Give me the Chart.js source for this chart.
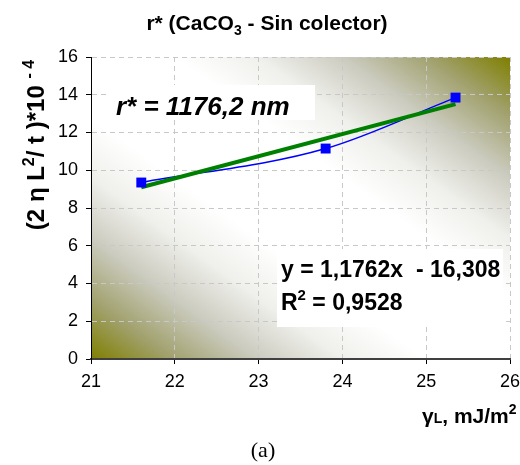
<!DOCTYPE html>
<html>
<head>
<meta charset="utf-8">
<script src="https://cdn.jsdelivr.net/npm/chart.js@4.4.0/dist/chart.umd.min.js"></script>
<style>
  html, body { margin: 0; padding: 0; background: #fff; overflow: hidden; }
  #wrap { width: 520px; height: 465px; overflow: hidden; position: relative; }
  #box { width: 540px; height: 465px; }
</style>
</head>
<body>
<div id="wrap"><div id="box"><canvas id="grafico"></canvas></div></div>
<script>
// datos
const gammaL = [21.6, 23.8, 25.35];
const valores = [9.35, 11.15, 13.85];
const tendenciaX = [21.6, 25.35];
const tendenciaY = [9.1, 13.5];
const xTicks = [21, 22, 23, 24, 25, 26];
const yTicks = [0, 2, 4, 6, 8, 10, 12, 14, 16];

const puntos = gammaL.map((x, i) => ({ x: x, y: valores[i] }));
const linea = tendenciaX.map((x, i) => ({ x: x, y: tendenciaY[i] }));

// texto con sub/superindices
function textoRico(ctx, partes, x, y, size, estilo, align) {
  const tam = p => (p.s ? Math.round(size * 0.65) : size);
  const ancho = partes.reduce((a, p) => {
    ctx.font = estilo + " " + tam(p) + "px 'Liberation Sans', Arial";
    return a + ctx.measureText(p.t).width;
  }, 0);
  let cx = align === "center" ? x - ancho / 2 : x;
  ctx.textAlign = "left";
  ctx.textBaseline = "alphabetic";
  partes.forEach(p => {
    ctx.font = estilo + " " + tam(p) + "px 'Liberation Sans', Arial";
    let dy = 0;
    if (p.s === "sup") dy = -size * 0.42;
    if (p.s === "sub") dy = size * 0.25;
    ctx.fillText(p.t, cx, y + dy);
    cx += ctx.measureText(p.t).width;
  });
}

const fondo = {
  id: "fondo",
  beforeDraw(chart) {
    const { ctx, chartArea: a } = chart;
    ctx.save();
    ctx.translate(a.left, a.top);
    ctx.scale(a.right - a.left, a.bottom - a.top);
    const g = ctx.createLinearGradient(0, 1, 1, 0);
    const paradas = [[0, "#7f7f00"], [0.1, "#a2a270"], [0.2, "#cbcbbf"], [0.3, "#efefeb"], [0.4, "#ffffff"]];
    paradas.forEach(p => g.addColorStop(p[0], p[1]));
    paradas.slice().reverse().forEach(p => g.addColorStop(1 - p[0], p[1]));
    ctx.fillStyle = g;
    ctx.fillRect(0, 0, 1, 1);
    ctx.restore();
  }
};

const textos = {
  id: "textos",
  afterDraw(chart) {
    const ctx = chart.ctx;
    ctx.save();
    ctx.fillStyle = "#000";
    // titulo
    textoRico(ctx, [{ t: "r* (CaCO" }, { t: "3", s: "sub" }, { t: " - Sin colector)" }], 267, 30, 21, "bold", "center");
    // eje y
    ctx.save();
    ctx.translate(44, 145);
    ctx.rotate(-Math.PI / 2);
    textoRico(ctx, [{ t: "(2 η L" }, { t: "2", s: "sup" }, { t: "/ t )*10 " }, { t: "- 4", s: "sup" }], 0, 0, 24, "bold", "center");
    ctx.restore();
    // eje x
    textoRico(ctx, [{ t: "γ" }, { t: "L", s: "sub2" }, { t: ", mJ/m" }, { t: "2", s: "sup" }], 422, 423, 21, "bold", "left");
    // (a)
    ctx.font = "22px 'Liberation Serif', 'Times New Roman'";
    ctx.textAlign = "center";
    ctx.fillText("(a)", 263, 457);
    // cajas
    ctx.fillStyle = "#fff";
    ctx.fillRect(109, 85, 206, 35);
    ctx.fillRect(277, 249, 226, 78);
    ctx.fillStyle = "#000";
    ctx.textAlign = "left";
    ctx.font = "italic bold 26px 'Liberation Sans', Arial";
    ctx.fillText("r* = 1176,2 nm", 116, 115);
    textoRico(ctx, [{ t: "y = 1,1762x  - 16,308" }], 281, 277, 23, "bold", "left");
    textoRico(ctx, [{ t: "R" }, { t: "2", s: "sup" }, { t: " = 0,9528" }], 281, 310, 23, "bold", "left");
    ctx.restore();
  }
};

new Chart(document.getElementById("grafico"), {
  type: "scatter",
  data: {
    datasets: [
      { data: puntos, showLine: false, pointStyle: "rect", pointRadius: 7, pointHoverRadius: 7,
        backgroundColor: "#0000ff", borderColor: "#0000ff", borderWidth: 0 },
      { data: linea, showLine: true, borderColor: "#008000", borderWidth: 4, pointRadius: 0, fill: false },
      { data: puntos, showLine: true, borderColor: "#0000ff", borderWidth: 1.5, pointRadius: 0,
        tension: 0.4, cubicInterpolationMode: "monotone", fill: false }
    ]
  },
  options: {
    responsive: true,
    maintainAspectRatio: false,
    animation: false,
    events: [],
    layout: { padding: { left: 41, top: 57, right: 30, bottom: 76 } },
    plugins: { legend: { display: false }, tooltip: { enabled: false } },
    scales: {
      x: {
        type: "linear", min: 21, max: 26,
        afterFit: s => { s.height = 30; },
        afterBuildTicks: s => { s.ticks = xTicks.map(v => ({ value: v })); },
        ticks: { color: "#000", font: { size: 18, family: "'Liberation Sans', Arial" }, padding: 7, maxRotation: 0 },
        grid: { color: "#c8c8c8", tickColor: "#000", tickLength: 5 },
        border: { color: "#404040", width: 2, dash: [5, 4] }
      },
      y: {
        min: 0, max: 16,
        afterFit: s => { s.width = 50; },
        afterBuildTicks: s => { s.ticks = yTicks.map(v => ({ value: v })); },
        ticks: { color: "#000", font: { size: 18, family: "'Liberation Sans', Arial" }, padding: 8 },
        grid: { color: "#c8c8c8", tickColor: "#000", tickLength: 5 },
        border: { color: "#000", width: 1, dash: [5, 4] }
      }
    }
  },
  plugins: [fondo, textos]
});
</script>
</body>
</html>
